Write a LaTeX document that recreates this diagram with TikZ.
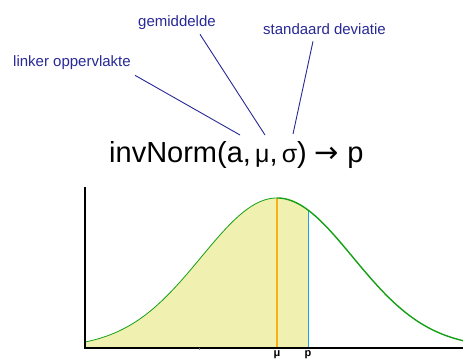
\documentclass[tikz,border=0pt]{standalone}
\usepackage{fontspec}
\setmainfont{Liberation Sans}
\newfontfamily\arrowfont{DejaVu Sans}
\definecolor{labelblue}{RGB}{40,40,150}
\definecolor{curvegreen}{RGB}{20,160,20}
\definecolor{areafill}{RGB}{240,240,176}
\definecolor{meanorange}{RGB}{250,175,20}
\definecolor{pblue}{RGB}{30,160,230}
\tikzset{
  uitleg/.style={text=labelblue, font=\fontsize{15}{15}\selectfont, inner sep=0pt, anchor=base west},
  wijzer/.style={labelblue, line width=0.9pt},
  askop/.style={font=\fontsize{11}{11}\selectfont\bfseries, inner sep=1pt, anchor=north}
}
\begin{document}
\begin{tikzpicture}[x=1pt,y=-1pt]
    \def\xa{85}
    \def\xb{463}
    \def\base{348}
    \def\top{187}
    \def\xm{277}
    \def\pp{308}
    \def\sd{75.7}
    \def\hoog{150}

\useasboundingbox (0,0) rectangle (463,363);

% --------------------
% Formula and labels
% --------------------
\node[inner sep=0pt, anchor=base west, font=\fontsize{29}{29}\selectfont] (formule) at (109,163)
    {invNorm(a,{\fontsize{25}{25}\selectfont\,μ},{\fontsize{25}{25}\selectfont\,σ}) {\arrowfont →} p};
\coordinate (a) at (240,135);
\coordinate (m) at (265,135);
\coordinate (s) at (293,134);

\node[uitleg] (links) at (13,67) {linker oppervlakte};
\node[uitleg] (gem) at (138,27) {gemiddelde};
\node[uitleg] (std) at (263,35) {standaard deviatie};

\draw[wijzer] (links.south west) ++(122,5) coordinate (l1) -- (a);
\draw[wijzer] (gem.south west) ++(62,4) coordinate (g1) -- (m);
\draw[wijzer] (std.south west) ++(50,6) coordinate (s1) -- (s);

% --------------------
% Area left of p
% --------------------
\fill[areafill] (\xa,\base) -- plot[domain=\xa:\pp, samples=80]
    (\x, {\base-\hoog*exp(-0.5*((\x-\xm)/\sd)^2)}) -- (\pp,\base) -- cycle;

% --------------------
% Vertical lines
% --------------------
\draw[meanorange, line width=1.6pt] (\xm,\base) -- (\xm,{\base-\hoog});
\draw[pblue, line width=1pt] (\pp,\base) -- (\pp,{\base-\hoog*exp(-0.5*((\pp-\xm)/\sd)^2)});

% --------------------
% Curve
% --------------------
\draw[curvegreen, line width=0.8pt] plot[domain=\xa:\xm, samples=80]
    (\x, {\base-\hoog*exp(-0.5*((\x-\xm)/\sd)^2)});
\draw[curvegreen, line width=1.4pt] plot[domain=\xm:\xb, samples=80]
    (\x, {\base-\hoog*exp(-0.5*((\x-\xm)/\sd)^2)});

% --------------------
% Axes and labels
% --------------------
\draw[line width=1.2pt] (\xa,\top) -- (\xa,\base) -- (\xb,\base);
\draw[gray, line width=1pt] (199,\base) -- (199,{\base+1.5});
\node[askop] (mulabel) at (\xm,{\base+1}) {μ};
\node[askop] (plabel) at (\pp,{\base+1}) {p};

\end{tikzpicture}
\end{document}
